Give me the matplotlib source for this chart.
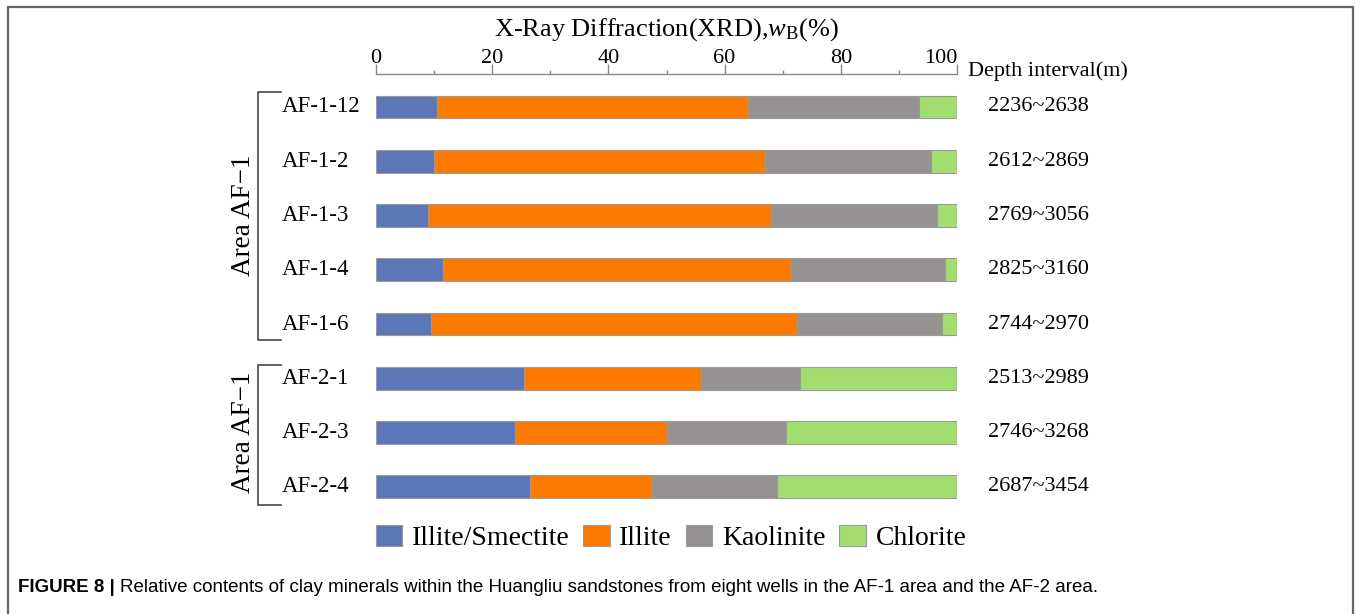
import numpy as np
import matplotlib
matplotlib.use("Agg")
import matplotlib.pyplot as plt
from matplotlib.lines import Line2D
from matplotlib.patches import Rectangle
import matplotlib.transforms as mtrans

plt.rcParams['font.family'] = ['Liberation Serif', 'DejaVu Serif']
plt.rcParams['mathtext.fontset'] = 'custom'
plt.rcParams['mathtext.rm'] = 'Liberation Serif'
plt.rcParams['mathtext.it'] = 'Liberation Serif:italic'

# clay mineral fractions (%) per well
wells = ['AF-1-12', 'AF-1-2', 'AF-1-3', 'AF-1-4', 'AF-1-6', 'AF-2-1', 'AF-2-3', 'AF-2-4']
illite_smectite = [10.5, 10.0, 9.0, 11.5, 9.5, 25.5, 24.0, 26.5]
illite = [53.5, 57.0, 59.0, 60.0, 63.0, 30.5, 26.0, 21.0]
kaolinite = [29.5, 28.5, 28.5, 26.5, 25.0, 17.0, 20.5, 21.5]
chlorite = [6.5, 4.5, 3.5, 2.0, 2.5, 27.0, 29.5, 31.0]
depths = ['2236~2638', '2612~2869', '2769~3056', '2825~3160', '2744~2970',
          '2513~2989', '2746~3268', '2687~3454']

minerals = ['Illite/Smectite', 'Illite', 'Kaolinite', 'Chlorite']
colors = ['#5b77b8', '#fe7b00', '#979392', '#a3dc6f']

W, H = 1356, 614
fig = plt.figure(figsize=(W / 100, H / 100), dpi=100)
ax = fig.add_axes([376 / W, 1 - 514 / H, (957 - 376) / W, (514 - 74) / H])

y = np.arange(len(wells))
left = np.zeros(len(wells))
handles = []
for vals, col, name in zip([illite_smectite, illite, kaolinite, chlorite], colors, minerals):
    b = ax.barh(y, vals, left=left, height=0.42, color=col, edgecolor='#9a9a9a',
                linewidth=0.8, label=name)
    handles.append(b)
    left += np.array(vals)

ax.set_xlim(0, 100)
ax.set_ylim(7.5, -0.608)
for s in ['left', 'right', 'bottom']:
    ax.spines[s].set_visible(False)
ax.spines['top'].set_color('#8a8a8a')
ax.spines['top'].set_linewidth(1.0)
ax.set_yticks([])
ax.xaxis.tick_top()
ax.set_xticks(np.arange(0, 101, 20))
ax.set_xticks(np.arange(10, 100, 20), minor=True)
ax.tick_params(axis='x', which='major', length=7.5, width=1.0, color='#8a8a8a',
               labelsize=16, pad=-3)
ax.tick_params(axis='x', which='minor', length=3, width=1.0, color='#8a8a8a')
# keep "100" clear of the depth header
ax.get_xticklabels(which='major')[-1].set_horizontalalignment('right')
for t in ax.xaxis.get_major_ticks()[-1:]:
    t.label2.set_horizontalalignment('right')

fig.text(666 / W, 1 - 30 / H, r'X-Ray Diffraction(XRD),$w_{\mathrm{B}}$(%)',
         ha='center', va='center', fontsize=19)

tr = mtrans.blended_transform_factory(fig.transFigure, ax.transData)

# well names and depth intervals
for i, (w, d) in enumerate(zip(wells, depths)):
    ax.text(282 / W, i, w, transform=tr, ha='left', va='center', fontsize=16.5)
    ax.text(988 / W, i, d, transform=tr, ha='left', va='center', fontsize=16)

fig.text(968 / W, 1 - 71 / H, 'Depth interval(m)', ha='left', va='center', fontsize=16)

# brackets grouping the wells by area
for top, bot, lab_y in [(-0.28, 4.29, 2.0), (4.75, 7.33, 6.0)]:
    xs = [281 / W, 258 / W, 258 / W, 281 / W]
    ys = [top, top, bot, bot]
    fig.add_artist(Line2D(xs, ys, transform=tr, color='#555555', lw=1.3))
    ax.text(243 / W, lab_y, 'Area AF\u22121', transform=tr, rotation=90,
            ha='center', va='center', fontsize=19.5)

fig.legend(handles=handles, labels=minerals, loc='center', ncol=4,
           bbox_to_anchor=(671 / W, 1 - 538 / H), frameon=False, fontsize=20,
           handlelength=0.95, handleheight=0.8, handletextpad=0.35,
           columnspacing=0.5, borderpad=0)

# caption
cap = fig.text(18 / W, 1 - 587 / H, 'FIGURE 8 |', ha='left', va='center', fontsize=13.5,
               fontweight='bold', family='Liberation Sans')
fig.canvas.draw()
bb = cap.get_window_extent()
fig.text((bb.x1 + 5) / W, 1 - 587 / H,
         'Relative contents of clay minerals within the Huangliu sandstones from eight '
         'wells in the AF-1 area and the AF-2 area.',
         ha='left', va='center', fontsize=13.5, family='Liberation Sans')

# outer frame
fig.add_artist(Rectangle((8 / W, -0.1), (1353 - 8) / W, 1.1 - 7 / H,
                         transform=fig.transFigure, fill=False,
                         edgecolor='#666666', lw=1.6))

fig.savefig('out.png', dpi=100)
